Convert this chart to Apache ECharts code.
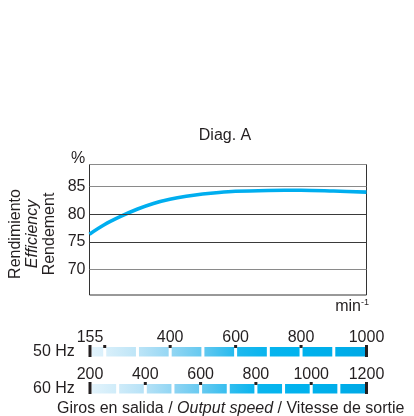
<!DOCTYPE html>
<html><head><meta charset="utf-8">
<script src="https://cdn.jsdelivr.net/npm/echarts@6/dist/echarts.min.js"></script>
<style>html,body{margin:0;padding:0;background:#fff}#c{width:414px;height:416px}</style>
</head><body><div id="c"></div>
<script>
// ---- data ----
const speed50 = [155, 200, 250, 300, 350, 400, 450, 500, 550, 600, 700, 800, 900, 1000];
const efficiency = [76.4, 78.1, 79.6, 80.9, 81.95, 82.7, 83.25, 83.65, 83.95, 84.15, 84.3, 84.35, 84.2, 84.0];
const effTicks = [70, 75, 80, 85];
const bar50Bounds = [155, 200, 300, 400, 500, 600, 700, 800, 900, 1000];
const bar50Labels = [155, 400, 600, 800, 1000];
const bar50Ticks = [200, 400, 600, 800];
const bar60Bounds = [200, 300, 400, 500, 600, 700, 800, 900, 1000, 1100, 1200];
const bar60Labels = [200, 400, 600, 800, 1000, 1200];
const bar60Ticks = [400, 600, 800, 1000];

// ---- styles ----
const FONT = '"Liberation Sans", Arial, sans-serif';
const FS = 16;
const TXT = '#231f20';
const stops = [[0,[228,244,252]],[0.11,[205,235,249]],[0.22,[176,223,246]],[0.34,[128,208,242]],[0.46,[78,195,239]],[0.56,[13,181,238]],[0.75,[0,179,238]],[1,[0,169,230]]];
function colAt(f){
  f = Math.max(0, Math.min(1, f));
  for (let i = 1; i < stops.length; i++) {
    if (f <= stops[i][0]) {
      const a = stops[i-1], b = stops[i], t = (f - a[0]) / (b[0] - a[0]);
      const c = a[1].map((v, k) => Math.round(v + (b[1][k] - v) * t));
      return 'rgb(' + c.join(',') + ')';
    }
  }
  return 'rgb(0,169,230)';
}
function pairs(b){ const r=[]; for(let i=0;i<b.length-1;i++) r.push([b[i], b[i+1]]); return r; }

function segRender(mn, mx){
  return function(params, api){
    const s = api.value(0), e = api.value(1);
    const pT = api.coord([s, 1]), pB = api.coord([e, 0]);
    const L = api.coord([mn, 0])[0], R = api.coord([mx, 0])[0];
    const x0 = pT[0] + (s === mn ? 2 : 1.5);
    const x1 = pB[0] - 1.5;
    const y0 = pT[1] + 2, y1 = pB[1] - 0.5;
    return {type:'rect', shape:{x:x0, y:y0, width:x1-x0, height:y1-y0},
      style:{fill: new echarts.graphic.LinearGradient(0,0,1,0,[
        {offset:0,color:colAt((x0-L)/(R-L))},{offset:1,color:colAt((x1-L)/(R-L))}])}};
  };
}
function endRender(params, api){
  const pT = api.coord([api.value(0), 1]), pB = api.coord([api.value(0), 0]);
  return {type:'rect', shape:{x:pT[0]-1.5, y:pT[1], width:3, height:pB[1]-pT[1]}, style:{fill:TXT}};
}
function tickRender(params, api){
  const pT = api.coord([api.value(0), 1]);
  return {type:'rect', shape:{x:pT[0]-1.5, y:pT[1], width:3, height:3}, style:{fill:TXT}};
}

const chart = echarts.init(document.getElementById('c'));
const barAxis = (i, mn, mx, labels) => ({
  gridIndex:i, type:'value', min:mn, max:mx, position:'top',
  axisLine:{show:false}, axisTick:{show:false}, splitLine:{show:false},
  axisLabel:{customValues:labels, fontSize:FS, color:TXT, fontFamily:FONT, margin:-1, showMinLabel:true, showMaxLabel:true,
    formatter: v => String(v)}
});
const hidY = i => ({gridIndex:i, type:'value', min:0, max:1, show:false});

chart.setOption({
  animation:false,
  grid:[
    {left:89.5, top:164.5, width:277, height:130.5, show:true, borderColor:'#333', borderWidth:1, backgroundColor:'transparent'},
    {left:90, top:345, width:276.5, height:12},
    {left:90, top:382, width:276.5, height:12}
  ],
  xAxis:[
    {gridIndex:0, type:'value', min:155, max:1000, axisLine:{show:false}, axisTick:{show:false}, axisLabel:{show:false}, splitLine:{show:false}},
    barAxis(1, bar50Bounds[0], bar50Bounds[bar50Bounds.length-1], bar50Labels),
    barAxis(2, bar60Bounds[0], bar60Bounds[bar60Bounds.length-1], bar60Labels)
  ],
  yAxis:[
    {gridIndex:0, type:'value', min:65.4, max:89, axisLine:{show:false}, axisTick:{show:false}, splitLine:{show:false},
     axisLabel:{customValues:effTicks, fontSize:FS, color:TXT, fontFamily:FONT, margin:4}},
    hidY(1), hidY(2)
  ],
  series:[
    {type:'line', xAxisIndex:0, yAxisIndex:0, data:speed50.map((s,i)=>[s, efficiency[i]]), smooth:0.35, symbol:'none',
     lineStyle:{color:'#00aeef', width:3.6}, z:3,
     markLine:{silent:true, symbol:'none', label:{show:false}, animation:false,
       data: effTicks.map(v => ({yAxis:v, lineStyle:{color:(v===80||v===75)?'#3a3a3a':'#8a8a8a', width:1, type:'solid'}}))
        .concat([{yAxis:89, lineStyle:{color:'#8a8a8a', width:1, type:'solid'}}])}},
    {type:'custom', xAxisIndex:1, yAxisIndex:1, renderItem:segRender(bar50Bounds[0], bar50Bounds[bar50Bounds.length-1]), data:pairs(bar50Bounds)},
    {type:'custom', xAxisIndex:1, yAxisIndex:1, renderItem:tickRender, data:bar50Ticks.map(v=>[v])},
    {type:'custom', xAxisIndex:1, yAxisIndex:1, renderItem:endRender, data:[[bar50Bounds[0]],[bar50Bounds[bar50Bounds.length-1]]]},
    {type:'custom', xAxisIndex:2, yAxisIndex:2, renderItem:segRender(bar60Bounds[0], bar60Bounds[bar60Bounds.length-1]), data:pairs(bar60Bounds)},
    {type:'custom', xAxisIndex:2, yAxisIndex:2, renderItem:tickRender, data:bar60Ticks.map(v=>[v])},
    {type:'custom', xAxisIndex:2, yAxisIndex:2, renderItem:endRender, data:[[bar60Bounds[0]],[bar60Bounds[bar60Bounds.length-1]]]}
  ],
  graphic:[
    {type:'text', x:225, y:136, style:{text:'Diag. A', font:FS+'px '+FONT, fill:TXT, align:'center', verticalAlign:'middle'}},
    {type:'text', x:78, y:159, style:{text:'%', font:FS+'px '+FONT, fill:TXT, align:'center', verticalAlign:'middle'}},
    {type:'text', x:15.5, y:234, rotation:Math.PI/2, style:{text:'Rendimiento', font:FS+'px '+FONT, fill:TXT, align:'center', verticalAlign:'middle'}},
    {type:'text', x:32.5, y:234, rotation:Math.PI/2, style:{text:'Efficiency', font:'italic '+FS+'px '+FONT, fill:TXT, align:'center', verticalAlign:'middle'}},
    {type:'text', x:49.5, y:234, rotation:Math.PI/2, style:{text:'Rendement', font:FS+'px '+FONT, fill:TXT, align:'center', verticalAlign:'middle'}},
    {type:'text', x:369, y:316, style:{text:'min{s|-1}', font:FS+'px '+FONT, fill:TXT, align:'right', verticalAlign:'bottom',
      rich:{s:{fontSize:9, fontFamily:FONT, verticalAlign:'top', padding:[0,0,9,0]}}}},
    {type:'text', x:33, y:352, style:{text:'50 Hz', font:FS+'px '+FONT, fill:TXT, align:'left', verticalAlign:'middle'}},
    {type:'text', x:33, y:389, style:{text:'60 Hz', font:FS+'px '+FONT, fill:TXT, align:'left', verticalAlign:'middle'}},
    {type:'text', x:57, y:409, style:{text:'Giros en salida / {i|Output speed} / Vitesse de sortie', font:FS+'px '+FONT, fill:TXT, align:'left', verticalAlign:'middle',
      rich:{i:{fontStyle:'italic', fontSize:FS, fontFamily:FONT}}}}
  ]
});
</script></body></html>
